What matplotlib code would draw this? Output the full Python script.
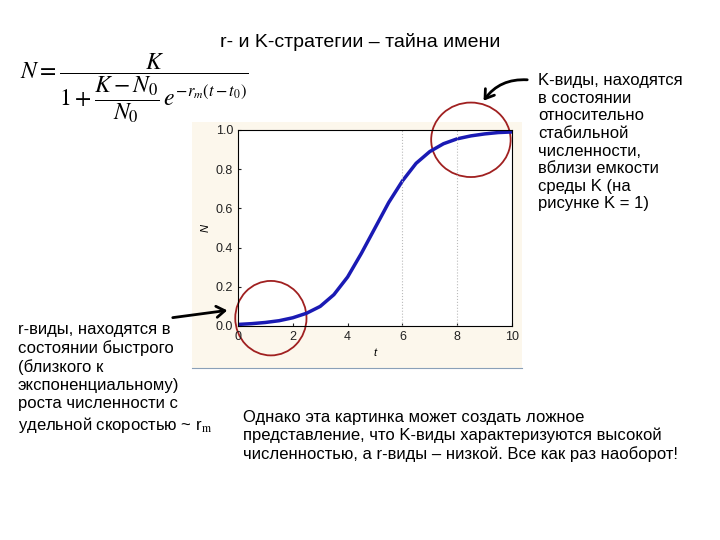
import matplotlib
matplotlib.use("Agg")
import matplotlib.pyplot as plt
from matplotlib.patches import Ellipse, FancyArrowPatch

plt.rcParams['font.family'] = ['Liberation Sans', 'DejaVu Sans']
plt.rcParams['mathtext.fontset'] = 'stix'

t = [0, 0.5, 1, 1.5, 2, 2.5, 3, 3.5, 4, 4.5, 5, 5.5, 6, 6.5, 7, 7.5, 8, 8.5, 9, 9.5, 10]
N = [0.008, 0.012, 0.018, 0.027, 0.042, 0.065, 0.10, 0.16, 0.25, 0.37, 0.50, 0.63, 0.74, 0.83, 0.89, 0.93, 0.955, 0.97, 0.98, 0.987, 0.99]
xticks = [0, 2, 4, 6, 8, 10]
yticks = [0.0, 0.2, 0.4, 0.6, 0.8, 1.0]

fig = plt.figure(figsize=(7.2, 5.4), dpi=100)
bg = fig.add_axes([192/720, 1-368/540, 330/720, 246/540], zorder=-1)
bg.set_facecolor("#fcf7ec"); bg.set_xticks([]); bg.set_yticks([])
for k, s in bg.spines.items():
    s.set_visible(k == "bottom"); s.set_color("#8aa0b8")
ax = fig.add_axes([238/720, 1-326/540, 274/720, 196/540])
ax.plot(t, N, color="#1a1ab4", lw=2.5, solid_joinstyle="round")
ax.set_xlim(0, 10); ax.set_ylim(0, 1)
ax.set_xticks(xticks); ax.set_yticks(yticks)
ax.set_xticklabels([str(v) for v in xticks])
ax.set_yticklabels([f"{v:.1f}" for v in yticks])
ax.tick_params(labelsize=9, colors="#222222", direction="in", length=2)
for x in [6, 8]:
    ax.axvline(x, color="#bbbbbb", ls=":", lw=0.8)
ax.set_xlabel("t", fontsize=8, style="italic")
ax.set_ylabel("N", fontsize=8, style="italic")
for s in ax.spines.values():
    s.set_linewidth(0.8)
ax.add_patch(Ellipse((1.2, 0.04), 2.6, 0.38, fill=False, ec="#a02020", lw=1.3, clip_on=False))
ax.add_patch(Ellipse((8.5, 0.95), 2.9, 0.38, fill=False, ec="#a02020", lw=1.3, clip_on=False))

fig.text(0.5, 1-42/540, "r- и K-стратегии – тайна имени", ha="center", va="center", fontsize=14)
fig.text(20/720, 1-88/540,
         r"$N=\dfrac{K}{1+\dfrac{K-N_0}{N_0}\,e^{-r_m(t-t_0)}}$",
         fontsize=17, va="center")
fig.text(538/720, 1-73/540,
         "K-виды, находятся\nв состоянии\nотносительно\nстабильной\nчисленности,\nвблизи емкости\nсреды K (на\nрисунке K = 1)",
         fontsize=12, va="top", linespacing=1.22)
fig.text(18/720, 1-322/540,
         "r-виды, находятся в\nсостоянии быстрого\n(близкого к\nэкспоненциальному)\nроста численности с\nудельной скоростью ~ r$_{\\rm m}$",
         fontsize=12, va="top", linespacing=1.25)
fig.text(243/720, 1-410/540,
         "Однако эта картинка может создать ложное\nпредставление, что K-виды характеризуются высокой\nчисленностью, а r-виды – низкой. Все как раз наоборот!",
         fontsize=12, va="top", linespacing=1.22)
fig.add_artist(FancyArrowPatch((530/720, 1-80/540), (482/720, 1-103/540),
               transform=fig.transFigure, connectionstyle="arc3,rad=0.3", arrowstyle="->,head_width=4,head_length=6",
               lw=2, color="black"))
fig.add_artist(FancyArrowPatch((170/720, 1-318/540), (230/720, 1-310/540),
               transform=fig.transFigure, arrowstyle="->,head_width=4,head_length=6",
               lw=2, color="black"))
fig.savefig("out.png", dpi=100, facecolor="white")
